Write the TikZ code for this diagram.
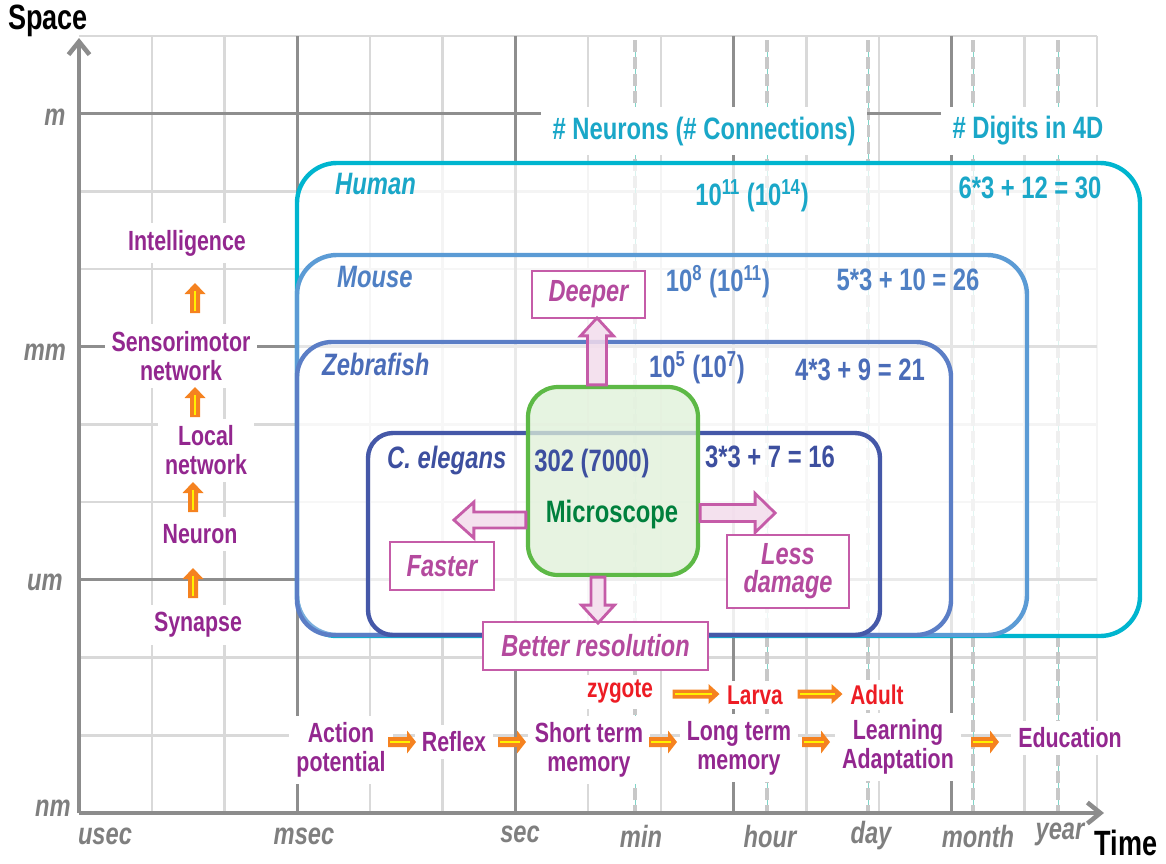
\documentclass[tikz,border=0pt]{standalone}
\usepackage{fontspec}
\setmainfont{Liberation Sans}[FakeStretch=0.77]
\usetikzlibrary{arrows.meta,fit,calc}
\definecolor{gridlight}{HTML}{D9D9D9}
\definecolor{griddark}{HTML}{8E8E8E}
\definecolor{axisgrey}{HTML}{8C8C8C}
\definecolor{labgrey}{HTML}{7F7F7F}
\definecolor{dashgrey}{HTML}{C8C8C8}
\definecolor{dashteal}{HTML}{80D4C8}
\definecolor{purp}{HTML}{93278F}
\definecolor{redt}{HTML}{ED1C24}
\definecolor{humanc}{HTML}{00B5CF}
\definecolor{humant}{HTML}{1AA7C8}
\definecolor{mousec}{HTML}{5B9BD5}
\definecolor{mouset}{HTML}{4F80C4}
\definecolor{zebc}{HTML}{5B7EC6}
\definecolor{zebt}{HTML}{4A6CB8}
\definecolor{celc}{HTML}{4558A8}
\definecolor{celt}{HTML}{3D4F9F}
\definecolor{pinkl}{HTML}{C55CA8}
\definecolor{pinkt}{HTML}{B44A9E}
\definecolor{pinkf}{HTML}{F3DCEC}
\definecolor{micl}{HTML}{5DB946}
\definecolor{micf}{HTML}{DFF0D8}
\definecolor{mict}{HTML}{00803D}
\definecolor{arrorange}{HTML}{F58220}
\definecolor{arryellow}{HTML}{FFF200}
\tikzset{
  gridl/.style={gridlight, line width=1.4pt},
  gridd/.style={griddark, line width=1.7pt},
  axisline/.style={axisgrey, line width=2.6pt, -{Straight Barb[length=0.26cm,width=0.42cm]}},
  ptext/.style={text=purp, font=\bfseries\fontsize{15.8}{16.3}\selectfont, fill=white, inner sep=0.14cm, align=center},
  rtext/.style={text=redt, font=\bfseries\fontsize{15.4}{16}\selectfont, fill=white, inner sep=0.1cm},
  axl/.style={text=labgrey, font=\bfseries\itshape\fontsize{17.5}{18}\selectfont},
  hdr/.style={text=humant, font=\bfseries\fontsize{17.6}{18}\selectfont, fill=white, inner xsep=0.24cm, inner ysep=0.2cm},
  num/.style={font=\bfseries\fontsize{17.6}{18}\selectfont},
  blab/.style={font=\bfseries\itshape\fontsize{17.6}{18}\selectfont, anchor=west},
  pbox/.style={draw=pinkl, line width=1.3pt, fill=white, text=pinkt, font=\bfseries\itshape\fontsize{17.4}{16}\selectfont, align=center, inner sep=0pt},
  parr/.style={draw=pinkl, fill=pinkf, line width=1.6pt, fill opacity=0.85},
  orgbox/.style={inner sep=0pt, line width=2.5pt},
  pics/barr/.style n args={4}{code={
    \path[pic actions] (0,-#2) -- ({#1-#4},-#2) -- ({#1-#4},-#3) -- (#1,0) -- ({#1-#4},#3) -- ({#1-#4},#2) -- (0,#2) -- cycle;
  }},
  pics/oarr/.style n args={4}{code={
    \path[fill=arrorange] ({-#1/2},-#2) -- ({#1/2-#4},-#2) -- ({#1/2-#4},-#3) -- ({#1/2},0) -- ({#1/2-#4},#3) -- ({#1/2-#4},#2) -- ({-#1/2},#2) -- cycle;
    \draw[arryellow, line width=1.1pt] ({-#1/2+2},0) -- ({#1/2-#4+3},0);
  }},
}
\begin{document}
\begin{tikzpicture}[x=0.02cm,y=-0.02cm]
\useasboundingbox (0,0) rectangle (1166,863);
% grid
\foreach \i in {1,...,14} \draw[gridl] ({79+72.73*\i},36) -- ({79+72.73*\i},813);
\foreach \k in {0,...,9} \draw[gridl] (79,{36+77.7*\k}) -- (1097,{36+77.7*\k});
\foreach \x in {635,767,868,973,1058} {
  \draw[dashteal, line width=0.4pt] (\x,40) -- (\x,813);
  \draw[dashgrey, line width=2.4pt, dash pattern=on 0.24cm off 0.1cm] (\x,40) -- (\x,813);
}
\foreach \i in {3,6,9,12} \draw[gridd] ({79+72.73*\i},36) -- ({79+72.73*\i},813);
\foreach \k in {1,4,7} \draw[gridd] (79,{36+77.7*\k}) -- (1097,{36+77.7*\k});
% axes
\coordinate (O) at (79,813);
\coordinate (ytip) at (79,38);
\coordinate (xtip) at (1104,813);
\draw[axisline] (O) -- (ytip);
\draw[axisline] (O) -- (xtip);
\node[font=\bfseries\fontsize{20}{20}\selectfont, inner sep=0pt] (space) at (48,21) {Space};
\node[font=\bfseries\fontsize{20}{20}\selectfont, inner sep=0pt] (time) at (1126,843) {Time};
\node[axl] (lm) at (55,117) {m};
\node[axl] (lmm) at (45,352) {mm};
\node[axl] (lum) at (45,582) {um};
\node[axl] (lnm) at (53,808) {nm};
\node[axl] (tusec) at (105,836) {usec};
\node[axl] (tmsec) at (304,836) {msec};
\node[axl] (tsec) at (520,834) {sec};
\node[axl] (tmin) at (641,836) {min};
\node[axl] (thour) at (770,836) {hour};
\node[axl] (tday) at (871,836) {day};
\node[axl] (tmonth) at (978,836) {month};
\node[axl] (tyear) at (1060,834) {year};
% organism boxes
\node[fit={(297,163)(1140,636)}, orgbox, draw=humanc, rounded corners=0.8cm, fill=white, fill opacity=0.72] (human) {};
\node[fit={(297,255)(1027,635)}, orgbox, draw=mousec, rounded corners=0.8cm, fill=white, fill opacity=0.2] (mouse) {};
\node[fit={(297,342)(951,635)}, orgbox, draw=zebc, rounded corners=0.7cm, fill=white, fill opacity=0.2] (zeb) {};
\node[fit={(368,433)(880,635)}, orgbox, draw=celc, rounded corners=0.5cm, fill=white, fill opacity=0.2] (cel) {};
% headers
\node[hdr] (hneur) at (704,131) {\# Neurons (\# Connections)};
\node[hdr] (hdig) at (1028,131) {\# Digits in 4D};
% box labels and numbers
\node[blab, text=humant] (lhuman) at (329,184) {Human};
\node[num, text=humant] (nhuman) at (752,196) {10\textsuperscript{11} (10\textsuperscript{14})};
\node[num, text=humant] (dhuman) at (1030,188) {6*3 + 12 = 30};
\node[blab, text=mouset] (lmouse) at (331,277) {Mouse};
\node[num, text=mouset] (nmouse) at (718,282) {10\textsuperscript{8} (10\textsuperscript{11})};
\node[num, text=mouset] (dmouse) at (908,280) {5*3 + 10 = 26};
\node[blab, text=zebt] (lzeb) at (316,364) {Zebrafish};
\node[num, text=zebt] (nzeb) at (697,368) {10\textsuperscript{5} (10\textsuperscript{7})};
\node[num, text=zebt] (dzeb) at (860,370) {4*3 + 9 = 21};
\node[blab, text=celt] (lcel) at (381,460) {C. elegans};
% microscope
\node[draw=micl, line width=2.4pt, fill=micf, fill opacity=0.75, rounded corners=0.6cm, minimum width=170*0.02cm, minimum height=188*0.02cm, inner sep=0pt] (mic) at (613,481) {};
\node[num, text=celt] (ncel) at (592,463) {302 (7000)};
\node[num, text=celt] (dcel) at (770,457) {3*3 + 7 = 16};
\node[num, text=mict] (mictext) at (612,514) {Microscope};
% pink label boxes
\node[pbox, minimum width=113*0.02cm, minimum height=47*0.02cm] (deeper) at (588.5,294.5) {Deeper};
\node[pbox, minimum width=104*0.02cm, minimum height=48*0.02cm] (faster) at (442,566) {Faster};
\node[pbox, minimum width=122*0.02cm, minimum height=73*0.02cm] (less) at (788,571.5) {Less\\damage};
\node[pbox, minimum width=225*0.02cm, minimum height=48*0.02cm] (better) at (595.5,646) {Better resolution};
% pink block arrows
\pic[parr, rotate=90] at (597,0 |- mic.north) {barr={67}{9.5}{16.5}{18}};
\pic[parr, rotate=180] at (mic.west |- 0,520) {barr={72}{8}{18}{20}};
\pic[parr] at (mic.east |- 0,513) {barr={75}{8.5}{19.5}{20}};
\pic[parr, rotate=-90] at (598,0 |- mic.south) {barr={46}{7}{16.5}{18}};
% left column
\node[ptext] (intel) at (187,243) {Intelligence};
\node[ptext] (senso) at (181,356) {Sensorimotor\\network};
\node[ptext] (local) at (206,450) {Local\\network};
\node[ptext] (neuron) at (200,534) {Neuron};
\node[ptext] (syn) at (198,625) {Synapse};
\pic[rotate=90] at (195,298) {oarr={30}{5}{10.5}{11}};
\pic[rotate=90] at (195,402) {oarr={30}{5}{10.5}{11}};
\pic[rotate=90] at (193,497) {oarr={30}{5}{10.5}{11}};
\pic[rotate=90] at (193,583) {oarr={30}{5}{10.5}{11}};
% development row
\node[rtext] (zyg) at (620,692) {zygote};
\node[rtext] (larva) at (755,695) {Larva};
\node[rtext] (adult) at (877,695) {Adult};
\pic at (696,694) {oarr={47}{4.5}{10}{11}};
\pic at (820,694) {oarr={45}{4.5}{10}{11}};
% time row
\node[ptext] (ap) at (341,750) {Action\\potential};
\node[ptext] (reflex) at (454,742) {Reflex};
\node[ptext] (stm) at (589,750) {Short term\\memory};
\node[ptext] (ltm) at (739,748) {Long term\\memory};
\node[ptext] (learn) at (898,747) {Learning\\Adaptation};
\node[ptext] (edu) at (1070,738) {Education};
\pic at (402,742) {oarr={28}{5}{11.5}{9}};
\pic at (512,742) {oarr={28}{5}{11.5}{9}};
\pic at (663,742) {oarr={28}{5}{11.5}{9}};
\pic at (816,742) {oarr={28}{5}{11.5}{9}};
\pic at (985,742) {oarr={28}{5}{11.5}{9}};
\end{tikzpicture}
\end{document}
